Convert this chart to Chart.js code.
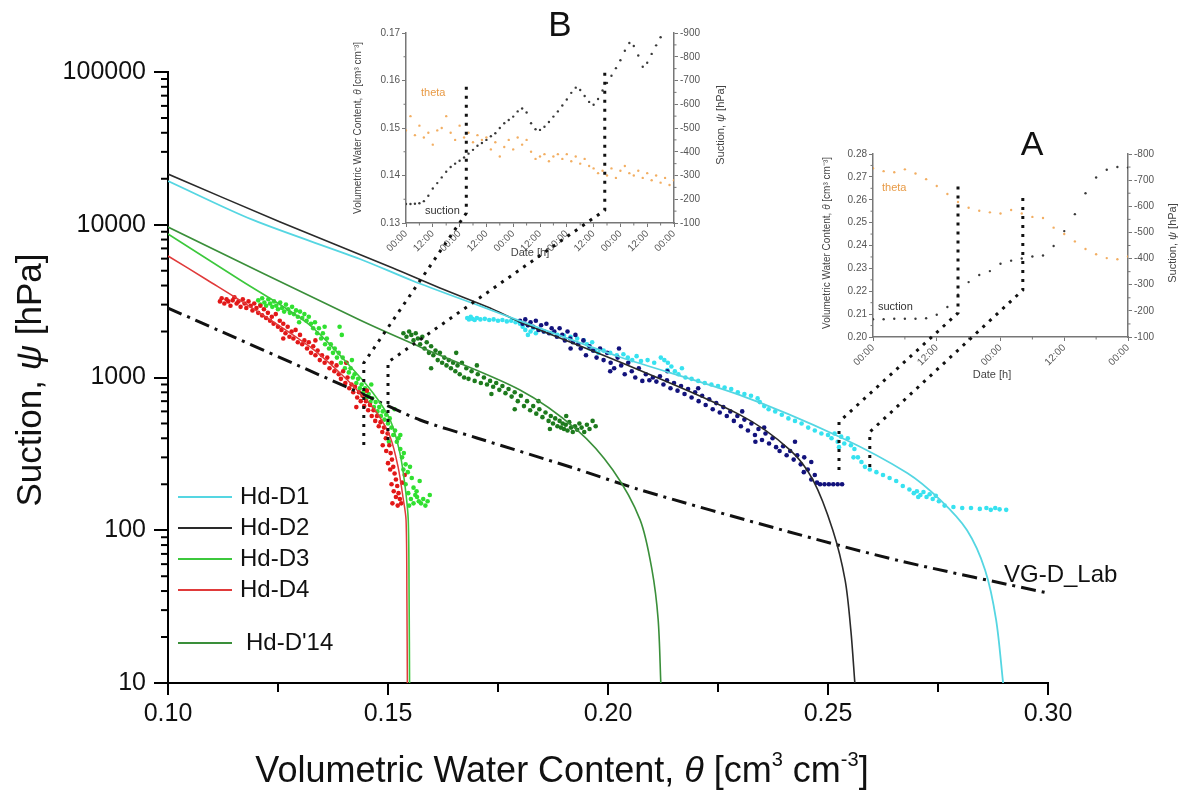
<!DOCTYPE html>
<html>
<head>
<meta charset="utf-8">
<script src="https://cdn.jsdelivr.net/npm/chart.js@4.4.1/dist/chart.umd.min.js"></script>
<style>
  html, body { margin: 0; padding: 0; background: #fff; }
  #wrap { position: relative; width: 1183px; height: 803px; overflow: hidden; }
  canvas { position: absolute; }
</style>
</head>
<body>
<div id="wrap">
  <canvas id="main" style="left:0;top:0"></canvas>
  <canvas id="insetB" style="left:340px;top:0"></canvas>
  <canvas id="insetA" style="left:810px;top:120px"></canvas>
  <canvas id="links" style="left:0;top:0"></canvas>
</div>
<script>
// main axes
const thetaTicks = [0.10, 0.15, 0.20, 0.25, 0.30];
const psiTicks = [10, 100, 1000, 10000, 100000];

// fitted curves, [theta, psi]
const lineD1 = [[0.1,19340],[0.1193,10750],[0.1436,5970],[0.1557,4285],[0.1709,2940],[0.18,2345],[0.2027,1362],[0.23,767],[0.2527,408],[0.268,237],[0.2755,158],[0.2816,100],[0.2857,55],[0.2882,26],[0.2898,10]];
const lineD2 = [[0.1,21480],[0.1255,10420],[0.1511,5210],[0.1618,3855],[0.1732,2850],[0.18,2310],[0.2027,1262],[0.23,569],[0.2414,335],[0.2466,213],[0.2511,100],[0.2539,47],[0.2552,22],[0.2561,10]];
const lineD3 = [[0.1,8697],[0.1164,4348],[0.1316,2275],[0.1407,1245],[0.1466,792],[0.1505,527],[0.1527,321],[0.1539,192],[0.1546,117],[0.1548,35],[0.1549,10]];
const lineD4 = [[0.1,6243],[0.1089,4348],[0.1209,2643],[0.1323,1585],[0.1391,1070],[0.1436,792],[0.1475,586],[0.1505,408],[0.1523,259],[0.1534,165],[0.1541,117],[0.1543,35],[0.1544,10]];
const lineD14 = [[0.1,9665],[0.1436,2378],[0.1573,1585],[0.18,829],[0.193,453],[0.2011,248],[0.2073,117],[0.21,55],[0.2114,26],[0.212,10]];
const lineVG = [[0.1,2850],[0.1436,793],[0.1573,527],[0.1702,402],[0.1921,256],[0.2073,184],[0.2398,100],[0.2664,63],[0.3,38.8]];

// measured points, [theta, psi]
const ptsD4 = [[0.1118,3150],[0.1122,3300],[0.1128,3050],[0.1133,3250],[0.1137,3150],[0.1142,2950],[0.1147,3200],[0.1151,3350],[0.1156,3050],[0.116,3150],[0.1165,2900],[0.117,3250],[0.1174,3050],[0.1178,2850],[0.1183,3150],[0.1188,2950],[0.1192,2750],[0.1196,3050],[0.1201,2850],[0.1205,2650],[0.121,2950],
  [0.1214,2550],[0.1218,2800],[0.1223,2450],[0.1227,2650],[0.1232,2350],[0.1236,2500],[0.124,2250],[0.1245,2600],[0.125,2150],[0.1254,2350],[0.1258,2050],[0.1262,2250],[0.1267,1950],[0.1272,2150],[0.1276,1850],[0.1281,2000],
  [0.1285,1800],[0.129,2050],[0.1295,1700],[0.13,1900],[0.1305,1650],[0.131,1750],[0.1316,1550],[0.132,1700],[0.1325,1450],[0.133,1600],[0.1335,1400],[0.134,1500],[0.1345,1300],[0.135,1400],[0.1356,1250],[0.1362,1350],[0.1367,1150],[0.1372,1250],[0.1378,1100],[0.1383,1200],[0.1388,1050],[0.1393,980],
  [0.1398,1100],[0.1403,920],[0.1408,1000],[0.1412,850],[0.1417,900],[0.1421,800],[0.1425,870],[0.143,740],[0.1434,800],[0.1438,700],[0.1442,760],[0.1446,650],[0.145,700],[0.1455,610],[0.1459,660],[0.1463,560],[0.1467,610],[0.1471,520],
  [0.1475,560],[0.1479,480],[0.1483,510],[0.1487,440],[0.1491,470],[0.1495,400],[0.1499,430],[0.1503,360],[0.1506,320],[0.1509,290],[0.1512,260],[0.1515,235],[0.1505,250],[0.1518,215],[0.1508,200],[0.1521,195],[0.1513,180],[0.1524,175],[0.1518,165],[0.1527,160],[0.151,150],[0.153,150],[0.1522,145],[0.15,275],[0.1496,330],[0.1532,205],
  [0.1262,1800],[0.1335,1750],[0.1405,1250],[0.1452,820],[0.1428,640],[0.1488,360],[0.1538,230]];
const ptsD3 = [[0.1205,3200],[0.121,3000],[0.1214,3300],[0.1219,3100],[0.1223,2950],[0.1228,3250],[0.1232,3050],[0.1237,2900],[0.1241,3150],[0.1246,2950],[0.125,2800],[0.1255,3100],[0.1259,2850],[0.1264,2700],[0.1268,3000],[0.1273,2800],[0.1277,2650],[0.1282,2900],[0.1286,2600],[0.1291,2750],[0.1295,2500],[0.13,2700],[0.1305,2450],[0.131,2600],[0.1315,2350],[0.132,2500],[0.1325,2250],
  [0.133,2100],[0.1334,2300],[0.1339,1950],[0.1343,2100],[0.1348,1800],[0.1352,1950],[0.1357,1650],[0.1361,1800],[0.1366,1550],[0.137,1650],[0.1375,1450],[0.1379,1550],[0.1384,1350],[0.1388,1450],[0.1393,1250],[0.1397,1350],[0.1402,1150],[0.1406,1250],[0.1411,1080],[0.1415,1150],[0.142,1000],[0.139,2150],[0.1395,1900],
  [0.1424,1050],[0.1428,920],[0.1432,980],[0.1436,850],[0.144,900],[0.1444,800],[0.1448,850],[0.1452,740],[0.1456,780],[0.146,690],[0.1464,730],[0.1468,640],[0.1472,690],[0.1476,600],[0.148,640],[0.1484,560],[0.1488,600],[0.1492,530],[0.1496,570],[0.15,500],[0.1504,540],
  [0.1508,470],[0.1512,420],[0.1516,450],[0.152,380],[0.1524,400],[0.1528,340],[0.1532,300],[0.1536,320],[0.154,270],[0.1545,240],[0.155,260],[0.1554,220],[0.154,200],[0.1558,190],[0.1546,175],[0.1562,170],[0.1552,160],[0.1566,165],[0.157,155],[0.1558,150],[0.1575,150],[0.158,160],[0.1585,145],[0.159,155],[0.1548,145],[0.1565,180],[0.1572,210],[0.1528,420],[0.1535,250],
  [0.1298,2300],[0.1356,2150],[0.1418,1300],[0.1462,900],[0.1515,620],[0.1502,380],[0.1595,170]];
const ptsD14 = [[0.1535,1950],[0.1542,1850],[0.1548,2000],[0.1553,1900],[0.1558,1750],[0.1563,1950],[0.1568,1800],[0.1573,1650],[0.1578,1850],[0.1583,1550],[0.1588,1700],[0.1593,1450],[0.1598,1600],[0.1603,1400],[0.1608,1500],[0.1613,1300],[0.1618,1450],[0.1623,1250],[0.1628,1350],[0.1633,1200],[0.1638,1300],[0.1643,1150],[0.1648,1250],[0.1653,1100],[0.1658,1200],[0.1663,1050],[0.1668,1250],[0.1673,1000],[0.1678,1150],[0.1683,980],[0.169,1100],[0.1697,950],[0.1704,1050],[0.1711,920],[0.1718,1000],[0.1725,900],[0.1732,950],[0.1739,870],[0.1746,920],[0.1753,830],[0.176,880],[0.1767,790],[0.1774,840],[0.1781,750],[0.1788,800],[0.1795,700],[0.1802,760],[0.1809,650],[0.1816,700],[0.1823,610],[0.183,650],[0.1837,580],[0.1844,620],[0.1851,550],[0.1858,590],[0.1865,520],[0.187,560],[0.1875,500],[0.188,540],[0.1885,480],[0.189,520],[0.1893,470],[0.1897,500],[0.19,460],[0.1904,490],[0.1908,450],[0.1912,510],[0.1916,470],[0.192,440],[0.1925,480],[0.193,455],[0.1935,500],[0.194,470],[0.1946,440],[0.1952,490],[0.1958,460],[0.1965,520],[0.1972,480],
  [0.1598,1150],[0.1655,1450],[0.1702,1200],[0.1735,780],[0.1788,620],[0.1842,700],[0.1868,460],[0.1905,560]];
const ptsD2 = [[0.18,2350],[0.1806,2250],[0.1812,2400],[0.1818,2200],[0.1824,2300],[0.183,2150],[0.1836,2350],[0.1842,2050],[0.1848,2200],[0.1854,2000],[0.186,2250],[0.1866,1950],[0.1872,2100],[0.1878,2000],[0.1884,1850],[0.189,2100],[0.1896,1900],[0.1902,1750],[0.1908,2000],[0.1914,1800],[0.192,1700],[0.1926,1900],[0.1932,1650],[0.1938,1550],[0.1944,1750],[0.195,1400],
  [0.1958,1600],[0.1966,1500],[0.1974,1350],[0.1982,1550],[0.199,1300],[0.1998,1450],[0.2006,1250],[0.2014,1150],[0.2022,1350],[0.203,1200],[0.2038,1050],[0.2046,1250],[0.2054,1100],[0.2062,1000],[0.207,1150],[0.2078,950],[0.2086,1050],[0.2094,960],[0.2102,1000],[0.211,940],[0.2118,1020],[0.2126,900],[0.2134,960],[0.2142,850],[0.215,920],[0.2158,820],[0.2166,880],[0.2174,780],[0.2182,840],[0.219,740],[0.2198,800],[0.2206,700],[0.2214,760],[0.2222,660],[0.223,720],[0.2238,620],[0.2246,680],[0.2254,590],[0.2262,640],[0.227,560],[0.2278,600],[0.2286,520],[0.2294,560],[0.2302,480],[0.231,530],[0.2318,450],[0.2326,500],[0.2334,420],[0.2342,460],[0.235,390],[0.2358,430],[0.2366,370],[0.2374,400],[0.2382,350],[0.239,330],[0.2398,355],[0.2406,310],[0.2414,330],[0.2422,290],[0.243,310],[0.2438,270],[0.2446,300],[0.2454,250],[0.2462,280],[0.247,230],[0.2462,215],[0.2475,205],[0.2482,200],[0.2492,200],[0.2502,200],[0.2512,200],[0.2522,200],[0.2532,200],
  [0.1915,1550],[0.2005,1100],[0.2025,1550],[0.2135,1100],[0.2205,850],[0.2305,600],[0.2355,470],[0.2425,380],[0.2445,240],[0.2335,380]];
const ptsD1 = [[0.168,2450],[0.1684,2400],[0.1688,2500],[0.1692,2420],[0.1697,2380],[0.1702,2450],[0.171,2400],[0.172,2420],[0.173,2380],[0.174,2400],[0.175,2350],[0.176,2380],[0.177,2330],[0.178,2350],[0.179,2300],[0.18,2250],[0.1806,2150],[0.1812,2050],[0.1818,2200],[0.1824,2000],[0.183,2100],[0.1836,1950],[0.1845,2050],[0.1855,2000],[0.187,1950],[0.1885,1900],[0.19,1880],[0.1915,1850],[0.193,1800],[0.1945,1750],[0.1952,1650],[0.1958,1550],[0.1964,1700],[0.197,1500],[0.1978,1450],[0.199,1500],[0.2005,1450],[0.202,1400],[0.2035,1420],[0.2045,1350],[0.2055,1300],[0.2065,1380],[0.2075,1280],[0.209,1300],[0.2105,1250],[0.212,1350],[0.2128,1300],[0.2136,1250],[0.2144,1180],[0.2152,1100],[0.216,1050],[0.2168,1150],[0.2176,1000],[0.219,980],[0.2205,950],[0.222,920],[0.2235,900],[0.225,880],[0.2265,860],[0.228,840],[0.2295,800],[0.231,780],[0.2325,760],[0.234,730],[0.2355,650],[0.2365,620],[0.238,600],[0.2395,570],[0.241,540],[0.2425,520],[0.244,500],[0.2455,470],[0.247,450],[0.2485,430],[0.25,420],[0.2508,400],[0.2515,430],[0.2522,380],[0.253,410],[0.2537,370],[0.2545,400],[0.2552,360],[0.256,340],[0.2568,300],[0.2576,280],[0.2584,260],[0.2595,250],[0.261,240],[0.2625,230],[0.264,220],[0.2655,210],[0.267,195],[0.2685,185],[0.2695,175],[0.2702,180],[0.271,170],[0.2717,178],[0.2724,165],[0.2731,172],[0.2738,160],[0.2745,168],[0.2752,155],[0.2765,145],[0.2785,142],[0.2805,140],[0.2825,140],[0.2845,138],[0.286,140],[0.287,136],[0.288,140],[0.289,137],[0.2905,136],
  [0.1818,1900],[0.2135,1120],[0.2345,690],[0.2525,350],[0.2558,300],[0.2705,165]];

// inset B: 5 days of logging
const bHoursTheta = [0,2,4,6,8,10,12,14,16,18,20,22,24,26,28,30,32,34,36,38,40,42,44,46,48,50,52,54,56,58,60,62,64,66,68,70,72,74,76,78,80,82,84,86,88,90,92,94,96,98,100,102,104,106,108,110,112,114,116,118,120];
const bTheta = [0.1495,0.1525,0.1485,0.1505,0.148,0.149,0.1465,0.1495,0.15,0.1525,0.149,0.1475,0.1505,0.148,0.149,0.147,0.1485,0.1475,0.148,0.1455,0.147,0.144,0.146,0.1475,0.1455,0.148,0.1465,0.1475,0.145,0.1435,0.144,0.1445,0.143,0.144,0.1445,0.1435,0.1445,0.143,0.144,0.1425,0.1435,0.142,0.1415,0.1405,0.141,0.14,0.1415,0.1395,0.141,0.142,0.1405,0.14,0.141,0.1395,0.1405,0.139,0.14,0.1385,0.1395,0.138,0.139];
const bHoursSuction = [0,2,4,6,8,10,12,14,16,18,20,22,24,26,28,30,32,34,36,38,40,42,44,46,48,50,52,54,56,58,60,62,64,66,68,70,72,74,76,78,80,82,84,86,88,90,92,94,96,98,100,102,104,106,108,110,112,114];
const bSuction = [-180,-180,-181,-183,-192,-215,-245,-268,-292,-316,-336,-350,-362,-376,-392,-408,-425,-437,-450,-465,-478,-500,-520,-534,-548,-570,-582,-565,-520,-495,-492,-505,-525,-548,-570,-595,-620,-648,-670,-660,-635,-610,-598,-622,-658,-690,-720,-752,-785,-825,-858,-845,-805,-758,-775,-812,-848,-882];

// inset A: 2 days of logging
const aHours = [0,2,4,6,8,10,12,14,16,18,20,22,24,26,28,30,32,34,36,38,40,42,44,46,48];
const aTheta = [0.2738,0.2725,0.272,0.2733,0.2715,0.269,0.266,0.2625,0.259,0.2565,0.2552,0.2545,0.254,0.2555,0.254,0.2525,0.252,0.2478,0.245,0.2418,0.2385,0.2362,0.2345,0.234,0.2352];
const aSuction = [-168,-168,-170,-170,-170,-172,-185,-215,-262,-310,-337,-352,-380,-392,-400,-408,-412,-448,-505,-570,-650,-710,-740,-750,-748];

// dotted connectors: main (theta, psi low..high) -> inset (hour, theta low..high)
const linkInset = ['B', 'B', 'A', 'A'];
const linkTheta = [0.1445, 0.15, 0.2525, 0.2595];
const linkPsiLow = [361, 390, 248, 259];
const linkPsiHigh = [1245, 1260, 512, 440];
const linkHour = [27, 89, 16, 28.2];
const linkInsetLow = [0.1321, 0.1327, 0.2105, 0.2205];
const linkInsetHigh = [0.1595, 0.1626, 0.2665, 0.2612];

const FONT = "'Liberation Sans', Arial, sans-serif";
Chart.defaults.font.family = FONT;

const toXY = (pts) => pts.map(([x, y]) => ({ x, y }));
const zipXY = (xs, ys) => ys.map((y, i) => ({ x: xs[i], y }));

function drawRich(ctx, parts, x, y, angle) {
  ctx.save();
  ctx.translate(x, y);
  ctx.rotate(angle || 0);
  let total = 0;
  parts.forEach((p) => { ctx.font = p.font; total += ctx.measureText(p.text).width; });
  let cx = -total / 2;
  ctx.textBaseline = "middle";
  ctx.textAlign = "left";
  parts.forEach((p) => {
    ctx.font = p.font;
    ctx.fillStyle = p.color || "#111";
    ctx.fillText(p.text, cx, p.dy || 0);
    cx += ctx.measureText(p.text).width;
  });
  ctx.restore();
}

function lineSet(label, pts, color, width, dash) {
  return {
    label, data: toXY(pts), showLine: true, borderColor: color, borderWidth: width,
    borderDash: dash || [], pointRadius: 0, tension: 0.3, order: 0,
  };
}
function dotSet(label, pts, color) {
  return {
    label, data: toXY(pts), showLine: false, pointRadius: 2.3, pointBorderWidth: 0,
    pointBackgroundColor: color, order: 1,
  };
}

const legendLabels = ["Hd-D1", "Hd-D2", "Hd-D3", "Hd-D4", "Hd-D'14"];
const legendRows = [497, 528, 559, 590, 643];

const mainDecor = {
  id: "mainDecor",
  afterDraw(chart) {
    const { ctx, scales: { x, y } } = chart;
    ctx.save();
    ctx.strokeStyle = "#000";
    ctx.lineWidth = 2;
    // minor ticks
    for (let i = 0; i < thetaTicks.length - 1; i++) {
      const px = x.getPixelForValue((thetaTicks[i] + thetaTicks[i + 1]) / 2);
      ctx.beginPath(); ctx.moveTo(px, y.bottom); ctx.lineTo(px, y.bottom + 9); ctx.stroke();
    }
    for (let d = 0; d < psiTicks.length - 1; d++) {
      for (let m = 2; m <= 9; m++) {
        const py = y.getPixelForValue(psiTicks[d] * m);
        ctx.beginPath(); ctx.moveTo(x.left - 7, py); ctx.lineTo(x.left, py); ctx.stroke();
      }
    }
    // legend
    ctx.font = `24px ${FONT}`;
    ctx.textBaseline = "middle";
    ctx.textAlign = "left";
    legendLabels.forEach((lab, i) => {
      const ds = chart.data.datasets.find((d) => d.label === lab);
      ctx.strokeStyle = ds.borderColor;
      ctx.lineWidth = 2;
      ctx.beginPath(); ctx.moveTo(178, legendRows[i]); ctx.lineTo(232, legendRows[i]); ctx.stroke();
      ctx.fillStyle = "#111";
      ctx.fillText(lab, lab === "Hd-D'14" ? 246 : 240, legendRows[i]);
    });
    ctx.fillText("VG-D_Lab", 1004, 575);
    ctx.restore();
    drawRich(ctx, [
      { text: "Volumetric Water Content, ", font: `36px ${FONT}` },
      { text: "\u03B8", font: `italic 36px ${FONT}` },
      { text: " [cm", font: `36px ${FONT}` },
      { text: "3", font: `20px ${FONT}`, dy: -12 },
      { text: " cm", font: `36px ${FONT}` },
      { text: "-3", font: `20px ${FONT}`, dy: -12 },
      { text: "]", font: `36px ${FONT}` },
    ], 562, 772, 0);
    drawRich(ctx, [
      { text: "Suction, ", font: `35px ${FONT}` },
      { text: "\u03C8", font: `italic 35px ${FONT}` },
      { text: " [hPa]", font: `35px ${FONT}` },
    ], 31, 380, -Math.PI / 2);
  },
};

const mainCanvas = document.getElementById("main");
mainCanvas.width = 1183; mainCanvas.height = 803;
const mainChart = new Chart(mainCanvas, {
  type: "scatter",
  data: {
    datasets: [
      lineSet("Hd-D1", lineD1, "#55d6e2", 1.8),
      lineSet("Hd-D2", lineD2, "#2a2a2a", 1.6),
      lineSet("Hd-D3", lineD3, "#3cc83c", 1.6),
      lineSet("Hd-D4", lineD4, "#e03a3a", 1.5),
      lineSet("Hd-D'14", lineD14, "#3a8f3a", 1.6),
      lineSet("VG-D_Lab", lineVG, "#111", 3, [15, 6, 3, 6]),
      dotSet("D4 data", ptsD4, "#e21818"),
      dotSet("D3 data", ptsD3, "#30e030"),
      dotSet("D'14 data", ptsD14, "#1d7a1d"),
      dotSet("D2 data", ptsD2, "#12127c"),
      dotSet("D1 data", ptsD1, "#36e2f0"),
    ],
  },
  options: {
    responsive: false,
    animation: false,
    events: [],
    layout: { padding: { top: 72, right: 135, left: 0, bottom: 0 } },
    plugins: { legend: { display: false }, tooltip: { enabled: false } },
    scales: {
      x: {
        type: "linear", min: 0.1, max: 0.3,
        afterBuildTicks: (s) => { s.ticks = thetaTicks.map((v) => ({ value: v })); },
        afterFit: (s) => { s.height = 120; },
        ticks: { callback: (v) => v.toFixed(2), font: { size: 25 }, color: "#111", padding: 4, autoSkip: false, maxRotation: 0 },
        grid: { drawOnChartArea: false, tickLength: 12, color: "#000", lineWidth: 2 },
        border: { color: "#000", width: 2 },
      },
      y: {
        type: "logarithmic", min: 10, max: 100000,
        afterBuildTicks: (s) => { s.ticks = psiTicks.map((v) => ({ value: v })); },
        afterFit: (s) => { s.width = 168; },
        ticks: { callback: (v) => String(v), font: { size: 25 }, color: "#111", padding: 8, autoSkip: false },
        grid: { drawOnChartArea: false, tickLength: 14, color: "#000", lineWidth: 2 },
        border: { color: "#000", width: 2 },
      },
    },
  },
  plugins: [mainDecor],
});

const THETA_COLOR = "rgba(240,160,70,0.85)";
const SUCTION_COLOR = "#3a3a3a";
const GREY = "#777";

function insetDecor(o) {
  return {
    id: "insetDecor" + o.letter,
    afterDraw(chart) {
      const { ctx, scales: { x, y, y1 } } = chart;
      ctx.save();
      ctx.strokeStyle = GREY;
      ctx.lineWidth = 1;
      const mid = (arr, f) => { for (let i = 0; i < arr.length - 1; i++) f((arr[i] + arr[i + 1]) / 2); };
      mid(o.xTicks, (v) => { const p = x.getPixelForValue(v); ctx.beginPath(); ctx.moveTo(p, y.bottom); ctx.lineTo(p, y.bottom + 2.5); ctx.stroke(); });
      mid(o.yTicks, (v) => { const p = y.getPixelForValue(v); ctx.beginPath(); ctx.moveTo(x.left - 2.5, p); ctx.lineTo(x.left, p); ctx.stroke(); });
      mid(o.y1Ticks, (v) => { const p = y1.getPixelForValue(v); ctx.beginPath(); ctx.moveTo(x.right, p); ctx.lineTo(x.right + 2.5, p); ctx.stroke(); });
      ctx.fillStyle = "#111";
      ctx.font = `${o.letterSize}px ${FONT}`;
      ctx.textAlign = "center";
      ctx.textBaseline = "middle";
      ctx.fillText(o.letter, o.letterPos[0], o.letterPos[1]);
      ctx.textAlign = "left";
      ctx.font = `11px ${FONT}`;
      ctx.fillStyle = "#e89a45";
      ctx.fillText("theta", o.thetaPos[0], o.thetaPos[1]);
      ctx.fillStyle = "#333";
      ctx.fillText("suction", o.suctionPos[0], o.suctionPos[1]);
      ctx.restore();
      const f = `10px ${FONT}`;
      drawRich(ctx, [
        { text: "Volumetric Water Content, ", font: f, color: "#444" },
        { text: "\u03B8", font: `italic ${f}`, color: "#444" },
        { text: " [cm\u00B3 cm\u207B\u00B3]", font: f, color: "#444" },
      ], o.leftTitle[0], o.leftTitle[1], -Math.PI / 2);
      drawRich(ctx, [
        { text: "Suction, ", font: `11px ${FONT}`, color: "#444" },
        { text: "\u03C8", font: `italic 11px ${FONT}`, color: "#444" },
        { text: " [hPa]", font: `11px ${FONT}`, color: "#444" },
      ], o.rightTitle[0], o.rightTitle[1], -Math.PI / 2);
      drawRich(ctx, [{ text: "Date [h]", font: `11px ${FONT}`, color: "#444" }], o.dateLabel[0], o.dateLabel[1], 0);
    },
  };
}

function makeInset(id, o) {
  const canvas = document.getElementById(id);
  canvas.width = o.w; canvas.height = o.h;
  const tickFont = { size: 10 };
  return new Chart(canvas, {
    type: "scatter",
    data: {
      datasets: [
        { label: "theta", data: o.theta, yAxisID: "y", showLine: false, pointRadius: 1.2, pointBorderWidth: 0, pointBackgroundColor: THETA_COLOR },
        { label: "suction", data: o.suction, yAxisID: "y1", showLine: false, pointRadius: 1.2, pointBorderWidth: 0, pointBackgroundColor: SUCTION_COLOR },
      ],
    },
    options: {
      responsive: false,
      animation: false,
      events: [],
      layout: { padding: { top: o.area.top, left: 0, right: 0, bottom: 0 } },
      plugins: { legend: { display: false }, tooltip: { enabled: false } },
      scales: {
        x: {
          type: "linear", min: 0, max: o.xTicks[o.xTicks.length - 1],
          afterBuildTicks: (s) => { s.ticks = o.xTicks.map((v) => ({ value: v })); },
          afterFit: (s) => { s.height = o.h - o.area.bottom; },
          ticks: { callback: (v) => (v % 24 === 0 ? "00:00" : "12:00"), minRotation: 45, maxRotation: 45, font: tickFont, color: "#555", padding: 1, autoSkip: false },
          grid: { drawOnChartArea: false, tickLength: 4, color: GREY, lineWidth: 1 },
          border: { color: GREY, width: 1.5 },
        },
        y: {
          type: "linear", position: "left", min: o.yTicks[0], max: o.yTicks[o.yTicks.length - 1],
          afterBuildTicks: (s) => { s.ticks = o.yTicks.map((v) => ({ value: v })); },
          afterFit: (s) => { s.width = o.area.left; },
          ticks: { callback: (v) => v.toFixed(2), font: tickFont, color: "#555", padding: 2, autoSkip: false },
          grid: { drawOnChartArea: false, tickLength: 4, color: GREY, lineWidth: 1 },
          border: { color: GREY, width: 1.5 },
        },
        y1: {
          type: "linear", position: "right", reverse: true, min: o.y1Ticks[0], max: o.y1Ticks[o.y1Ticks.length - 1],
          afterBuildTicks: (s) => { s.ticks = o.y1Ticks.map((v) => ({ value: v })); },
          afterFit: (s) => { s.width = o.w - o.area.right; },
          ticks: { callback: (v) => String(v), font: tickFont, color: "#555", padding: 2, autoSkip: false },
          grid: { drawOnChartArea: false, tickLength: 4, color: GREY, lineWidth: 1 },
          border: { color: GREY, width: 1.5 },
        },
      },
    },
    plugins: [insetDecor(o)],
  });
}

const insetB = makeInset("insetB", {
  w: 400, h: 270, area: { left: 66, right: 334, top: 33, bottom: 223 },
  xTicks: [0, 12, 24, 36, 48, 60, 72, 84, 96, 108, 120],
  yTicks: [0.13, 0.14, 0.15, 0.16, 0.17],
  y1Ticks: [-900, -800, -700, -600, -500, -400, -300, -200, -100],
  theta: zipXY(bHoursTheta, bTheta),
  suction: zipXY(bHoursSuction, bSuction),
  letter: "B", letterSize: 35, letterPos: [220, 26],
  thetaPos: [81, 93], suctionPos: [85, 211],
  leftTitle: [18, 128], rightTitle: [381, 125], dateLabel: [190, 253],
});

const insetA = makeInset("insetA", {
  w: 373, h: 280, area: { left: 63, right: 318, top: 34, bottom: 217 },
  xTicks: [0, 12, 24, 36, 48],
  yTicks: [0.20, 0.21, 0.22, 0.23, 0.24, 0.25, 0.26, 0.27, 0.28],
  y1Ticks: [-800, -700, -600, -500, -400, -300, -200, -100],
  theta: zipXY(aHours, aTheta),
  suction: zipXY(aHours, aSuction),
  letter: "A", letterSize: 34, letterPos: [222, 26],
  thetaPos: [72, 68], suctionPos: [68, 187],
  leftTitle: [17, 123], rightTitle: [363, 123], dateLabel: [182, 255],
});

// connectors between the main chart and the insets
const links = document.getElementById("links");
links.width = 1183; links.height = 803;
const lctx = links.getContext("2d");
const insetInfo = { B: { chart: insetB, dx: 340, dy: 0 }, A: { chart: insetA, dx: 810, dy: 120 } };
lctx.strokeStyle = "#111";
lctx.lineWidth = 3;
lctx.setLineDash([3, 6]);
linkInset.forEach((key, i) => {
  const mx = mainChart.scales.x.getPixelForValue(linkTheta[i]);
  const myLow = mainChart.scales.y.getPixelForValue(linkPsiLow[i]);
  const myHigh = mainChart.scales.y.getPixelForValue(linkPsiHigh[i]);
  const inf = insetInfo[key];
  const ix = inf.dx + inf.chart.scales.x.getPixelForValue(linkHour[i]);
  const iyLow = inf.dy + inf.chart.scales.y.getPixelForValue(linkInsetLow[i]);
  const iyHigh = inf.dy + inf.chart.scales.y.getPixelForValue(linkInsetHigh[i]);
  lctx.beginPath();
  lctx.moveTo(mx, myLow);
  lctx.lineTo(mx, myHigh);
  lctx.lineTo(ix, iyLow);
  lctx.lineTo(ix, iyHigh);
  lctx.stroke();
});
</script>
</body>
</html>
